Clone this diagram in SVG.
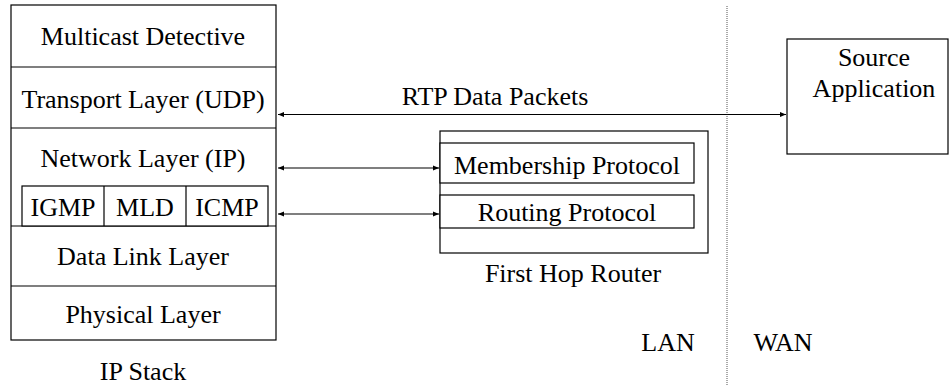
<svg xmlns="http://www.w3.org/2000/svg" width="951" height="386" viewBox="0 0 951 386">
<style>
.box{fill:#fff;stroke:#000;stroke-width:1.2}
.ln{fill:none;stroke:#000;stroke-width:1.2}
.con{fill:none;stroke:#000;stroke-width:1.2;marker-start:url(#ah);marker-end:url(#ah)}
</style>
<defs>
<marker id="ah" viewBox="0 0 10 10" refX="10" refY="5" markerWidth="6" markerHeight="6" orient="auto-start-reverse" markerUnits="userSpaceOnUse">
<path d="M0,1 L10,5 L0,9 z" fill="#000"/>
</marker>
</defs>
<rect width="951" height="386" fill="#fff"/>
<g id="ip-stack">
<rect class="box" x="11" y="5" width="265" height="335"/>
<line class="ln" x1="11" y1="67" x2="276" y2="67"/>
<line class="ln" x1="11" y1="128" x2="276" y2="128"/>
<line class="ln" x1="11" y1="226" x2="276" y2="226"/>
<line class="ln" x1="11" y1="286" x2="276" y2="286"/>
<text x="143" y="45" font-family="Liberation Serif" font-size="26" text-anchor="middle">Multicast Detective</text>
<text x="143" y="108" font-family="Liberation Serif" font-size="26" text-anchor="middle">Transport Layer (UDP)</text>
<text x="143" y="167" font-family="Liberation Serif" font-size="26" text-anchor="middle">Network Layer (IP)</text>
<text x="143" y="265" font-family="Liberation Serif" font-size="26" text-anchor="middle">Data Link Layer</text>
<text x="143" y="323" font-family="Liberation Serif" font-size="26" text-anchor="middle">Physical Layer</text>
<text x="143" y="380" font-family="Liberation Serif" font-size="26" text-anchor="middle">IP Stack</text>
</g>
<g id="protocols">
<rect class="box" x="22" y="186" width="246" height="40"/>
<line class="ln" x1="104" y1="186" x2="104" y2="226"/>
<line class="ln" x1="186" y1="186" x2="186" y2="226"/>
<text x="63" y="216" font-family="Liberation Serif" font-size="26" text-anchor="middle">IGMP</text>
<text x="145" y="216" font-family="Liberation Serif" font-size="26" text-anchor="middle">MLD</text>
<text x="227" y="216" font-family="Liberation Serif" font-size="26" text-anchor="middle">ICMP</text>
</g>
<g id="router">
<rect class="box" x="440" y="131" width="268" height="122"/>
<rect class="box" x="440" y="143" width="254" height="40"/>
<rect class="box" x="440" y="195" width="254" height="33"/>
<text x="567" y="174" font-family="Liberation Serif" font-size="26" text-anchor="middle">Membership Protocol</text>
<text x="567" y="221" font-family="Liberation Serif" font-size="26" text-anchor="middle">Routing Protocol</text>
<text x="573" y="282" font-family="Liberation Serif" font-size="26" text-anchor="middle">First Hop Router</text>
</g>
<g id="source">
<rect class="box" x="787" y="39" width="161" height="115"/>
<text x="874" y="66" font-family="Liberation Serif" font-size="26" text-anchor="middle">Source</text>
<text x="874" y="97" font-family="Liberation Serif" font-size="26" text-anchor="middle">Application</text>
</g>
<g id="divider">
<line x1="727" y1="6" x2="727" y2="386" stroke="#555" stroke-width="1" stroke-dasharray="1,1"/>
<text x="668" y="351" font-family="Liberation Serif" font-size="26" text-anchor="middle">LAN</text>
<text x="783" y="351" font-family="Liberation Serif" font-size="26" text-anchor="middle">WAN</text>
</g>
<g id="connectors">
<line class="con" x1="278" y1="114.5" x2="786" y2="114.5"/>
<line class="con" x1="278" y1="168" x2="439" y2="168"/>
<line class="con" x1="278" y1="214" x2="439" y2="214"/>
<text x="495" y="105" font-family="Liberation Serif" font-size="26" text-anchor="middle">RTP Data Packets</text>
</g>
</svg>
